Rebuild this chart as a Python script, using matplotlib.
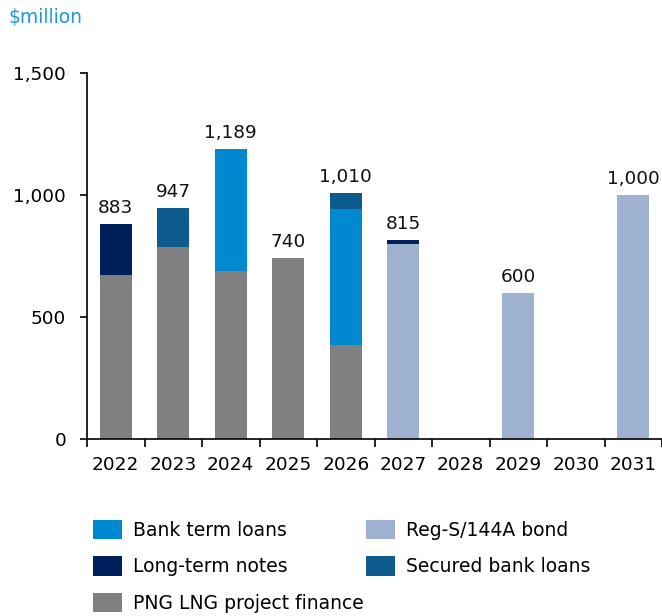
import numpy as np
import matplotlib.pyplot as plt

# ---------------- DATA ----------------
YEARS = ["2022", "2023", "2024", "2025", "2026", "2027", "2028", "2029", "2030", "2031"]
PNG_LNG = [673, 787, 689, 740, 387, 0, 0, 0, 0, 0]
REG_S_BOND = [0, 0, 0, 0, 0, 800, 0, 600, 0, 1000]
BANK_TERM = [0, 0, 500, 0, 555, 0, 0, 0, 0, 0]
LONG_TERM_NOTES = [210, 0, 0, 0, 0, 15, 0, 0, 0, 0]
SECURED = [0, 160, 0, 0, 68, 0, 0, 0, 0, 0]
TOTALS = [883, 947, 1189, 740, 1010, 815, 0, 600, 0, 1000]
# --------------------------------------

C_BANK = "#0088d1"
C_LTN = "#00205b"
C_PNG = "#808080"
C_BOND = "#9fb1d0"
C_SEC = "#0e5c8e"

plt.rcParams['font.family'] = ['DejaVu Sans']
FS = 13.3
FS_LEG = 13.5

fig = plt.figure(figsize=(6.62, 6.16), dpi=100)
ax = fig.add_axes([87 / 662, 1 - 439 / 616, 575 / 662, (439 - 73) / 616])

x = np.arange(len(YEARS))
w = 0.56
bottom = np.zeros(len(YEARS))
series = [
    (PNG_LNG, C_PNG, "PNG LNG project finance"),
    (REG_S_BOND, C_BOND, "Reg-S/144A bond"),
    (BANK_TERM, C_BANK, "Bank term loans"),
    (LONG_TERM_NOTES, C_LTN, "Long-term notes"),
    (SECURED, C_SEC, "Secured bank loans"),
]
handles = {}
for vals, col, lab in series:
    vals = np.array(vals, dtype=float)
    b = ax.bar(x, vals, w, bottom=bottom, color=col, label=lab, linewidth=0)
    handles[lab] = b
    bottom += vals

for i, t in enumerate(TOTALS):
    if t > 0:
        ax.annotate(f"{t:,}", (x[i], t), xytext=(0, 5), textcoords="offset points",
                    ha="center", va="bottom", fontsize=FS, color="#111111")

ax.set_xlim(-0.5, len(YEARS) - 0.5)
ax.set_ylim(0, 1500)
ax.set_yticks([0, 500, 1000, 1500])
ax.set_yticklabels(["0", "500", "1,000", "1,500"], fontsize=FS)
ax.set_xticks(x)
ax.set_xticklabels(YEARS, fontsize=FS)
ax.tick_params(axis="x", length=0, pad=12)
ax.set_xticks(np.arange(-0.5, len(YEARS) - 0.4, 1), minor=True)
ax.tick_params(axis="x", which="minor", length=6, width=1.2, color="black")
ax.tick_params(axis="y", length=5, width=1.2, pad=10)
for s in ["top", "right"]:
    ax.spines[s].set_visible(False)
ax.spines["left"].set_linewidth(1.2)
ax.spines["bottom"].set_linewidth(1.2)

fig.text(8 / 662, 1 - 18 / 616, "$million", color="#1a9ad6", fontsize=FS_LEG, va="center", ha="left")

order = ["Bank term loans", "Long-term notes", "PNG LNG project finance",
         "Reg-S/144A bond", "Secured bank loans"]
fig.legend([handles[k] for k in order], order, ncol=2, loc="upper left",
           bbox_to_anchor=(93 / 662, 1 - 520 / 616), frameon=False, fontsize=FS_LEG,
           borderpad=0, borderaxespad=0,
           handlelength=1.55, handleheight=1.2, handletextpad=0.6,
           columnspacing=0.1, labelspacing=0.88)

fig.savefig("out.png", dpi=100)
